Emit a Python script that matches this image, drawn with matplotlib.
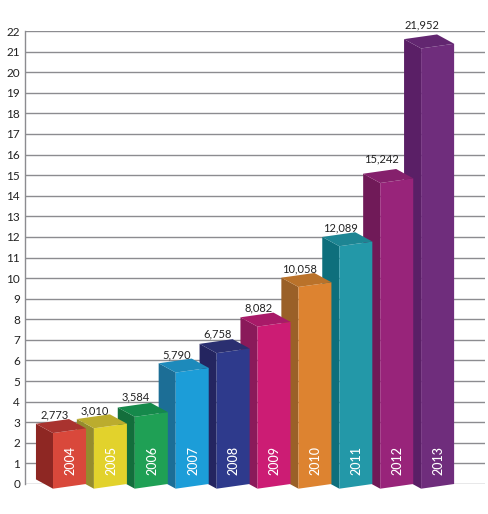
import matplotlib
matplotlib.use('Agg')
import matplotlib.pyplot as plt

years = ['2004','2005','2006','2007','2008','2009','2010','2011','2012','2013']
values = [2773,3010,3584,5790,6758,8082,10058,12089,15242,21952]
front = ['#D9483B','#E2D22C','#1FA055','#1C9DD8','#2E3A8C','#CC1C74','#DD8330','#2398A8','#98247A','#6F2D7C']
side = ['#8E2723','#958C2E','#136E3C','#1C6E96','#242560','#8A1A5A','#9A6028','#0E6F7C','#701A58','#5A1F66']
top = ['#A9332F','#BBAC2E','#15894B','#1D8ABB','#2A2F70','#A81A68','#BA722A','#1D8593','#85206C','#622670']
yticks = list(range(0,23))

# fake 3d box shape, in data units
base = -0.228
w, w_rise = 0.807, 0.228
d, d_rise = -0.417, 0.452
hscale = 0.974/1000
label_gap = [-0.05,-0.09,0.03,-0.09,-0.03,-0.05,-0.05,-0.05,0.24,0.2]

plt.rcParams['font.family'] = ['Lato','DejaVu Sans']
fig = plt.figure(figsize=(4.89,5.14),dpi=100)
ax = fig.add_axes([25/489,30/514,460/489,453/514])
ax.set_xlim(-0.685,10.562)
ax.set_ylim(0,22)

ax.set_yticks(yticks)
ax.tick_params(axis='y',length=0,labelsize=8.5,labelcolor='#222222',pad=3.5)
ax.set_xticks([])
ax.yaxis.grid(True,color='#8C8C90',lw=1)
ax.set_axisbelow(True)
for s in ['top','right','bottom']:
    ax.spines[s].set_visible(False)
ax.spines['left'].set_color('#8C8C90')
ax.spines['left'].set_linewidth(1)

# right to left, each bar sits in front of the next one
for i in range(len(years)-1,-1,-1):
    h = values[i]*hscale
    y0 = base
    y1 = base+h
    ax.fill([i,i+d,i+d,i],[y0,y0+d_rise,y1+d_rise,y1],color=side[i],lw=0,clip_on=False,zorder=3)
    ax.fill([i,i+w,i+w,i],[y0,y0+w_rise,y1+w_rise,y1],color=front[i],lw=0,clip_on=False,zorder=3)
    ax.fill([i,i+w,i+w+d,i+d],[y1,y1+w_rise,y1+w_rise+d_rise,y1+d_rise],color=top[i],lw=0,clip_on=False,zorder=3)
    ax.text(i+w/2+0.02,0.45,years[i],rotation=90,color='white',fontsize=9,fontweight='medium',ha='center',va='bottom',zorder=4)
    ax.text(i+0.03,y1+w_rise+d_rise+label_gap[i],f'{values[i]:,}',color='#222222',fontsize=8,ha='center',va='bottom',zorder=4,clip_on=False)

fig.savefig('out.png',dpi=100)
